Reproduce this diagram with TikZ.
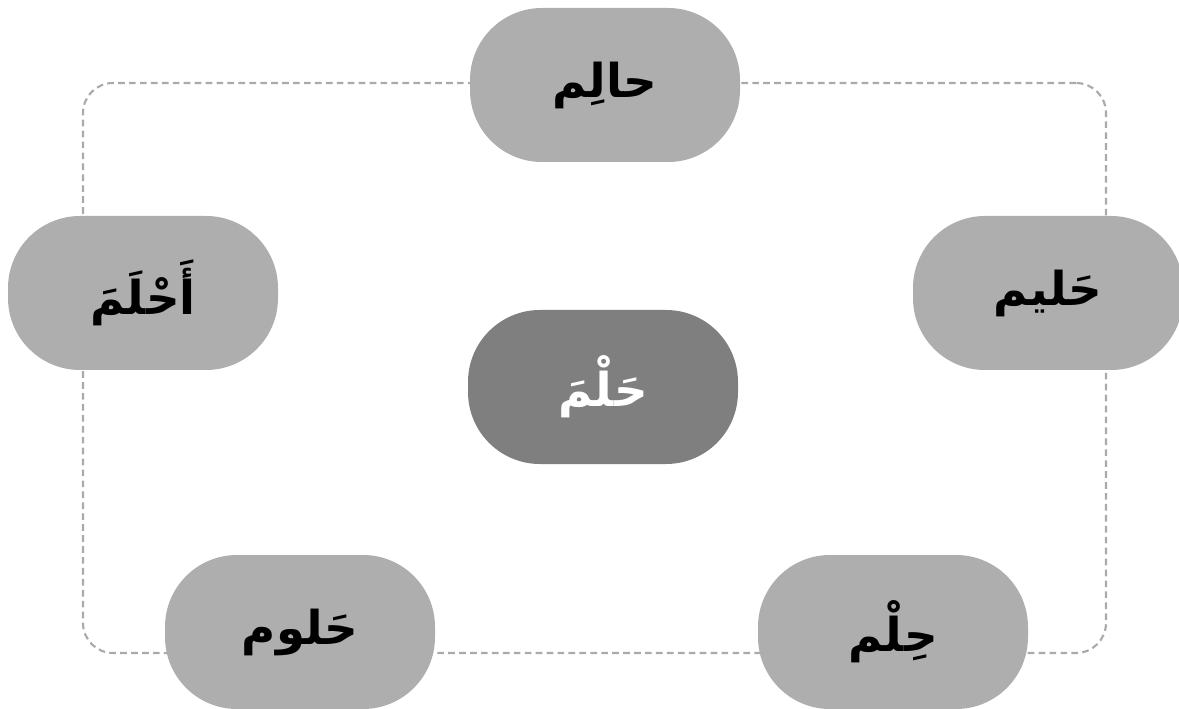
\documentclass[tikz,border=0pt]{standalone}
\usepackage{fontspec}
\TeXXeTstate=1
\newfontfamily\arabicfont[Script=Arabic]{DejaVu Sans}
\definecolor{pillgray}{HTML}{AEAEAE}
\definecolor{centergray}{HTML}{7F7F7F}
\definecolor{framegray}{HTML}{AAAAAA}
\begin{document}
\begin{tikzpicture}[x=0.75pt,y=-0.75pt,
  pill/.style={fill=pillgray, rounded corners=54pt, minimum width=202.5pt, minimum height=115.5pt, inner sep=0pt, font=\arabicfont\bfseries\fontsize{35}{40}\selectfont, text=black},
  core/.style={pill, fill=centergray, text=white},
  framebox/.style={draw=framegray, line width=1.6pt, dash pattern=on 5pt off 3.2pt, rounded corners=22.5pt, minimum width=767.25pt, minimum height=427.5pt, inner sep=0pt}]
\useasboundingbox (0,0) rectangle (1179,709);
\node[framebox] (frame) at (594.5,368) {};
\node[pill] (top) at (605,85) {\beginR حالِم\endR};
\node[pill] (left) at (143,293) {\beginR أَحْلَمَ\endR};
\node[pill] (right) at (1048,293) {\beginR حَليم\endR};
\node[core] (center) at (603,387) {\beginR حَلْمَ\endR};
\node[pill] (bl) at (300,632) {\beginR حَلوم\endR};
\node[pill] (br) at (893,632) {\beginR حِلْم\endR};
\end{tikzpicture}
\end{document}
